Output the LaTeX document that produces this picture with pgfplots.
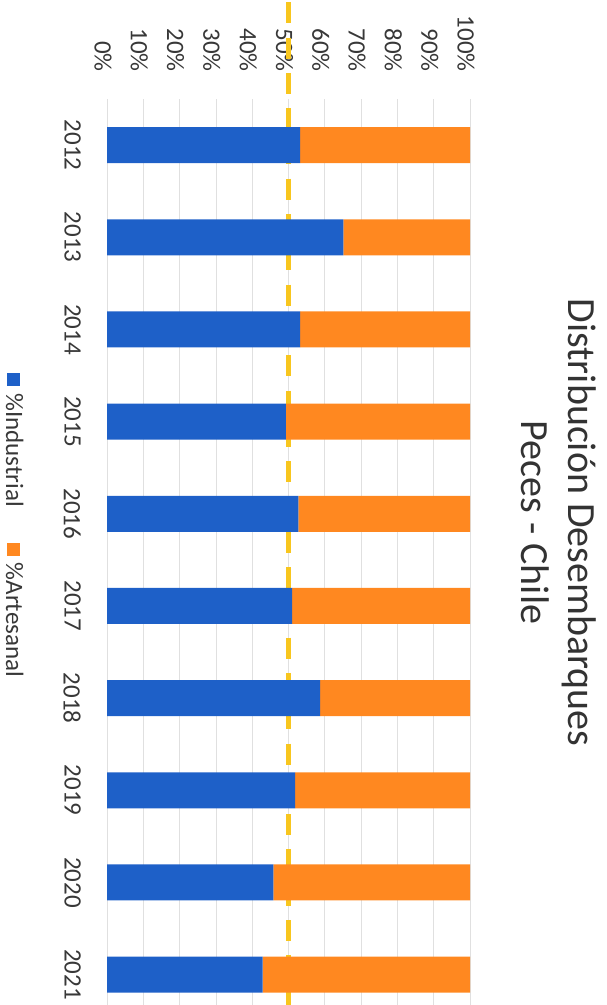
\documentclass[border=0pt]{standalone}
\usepackage{fontspec}
\setmainfont{Carlito}
\usepackage{pgfplots}
\pgfplotsset{compat=1.18}
\usepackage{pgfplotstable}
\definecolor{indblue}{RGB}{30,96,200}
\definecolor{artorange}{RGB}{255,136,32}
\definecolor{refgold}{RGB}{248,198,30}
\pgfplotstableread{
idx year ind art
0 2012 53.2 46.8
1 2013 65.1 34.9
2 2014 53.2 46.8
3 2015 49.3 50.7
4 2016 52.7 47.3
5 2017 51.0 49.0
6 2018 58.7 41.3
7 2019 51.8 48.2
8 2020 45.8 54.2
9 2021 42.9 57.1
}\datatable
\begin{document}
\begin{tikzpicture}
\useasboundingbox (0,0) rectangle (607bp,-1005bp);
\begin{axis}[
  at={(107bp,-99bp)}, anchor=north west,
  scale only axis, width=363bp, height=906bp,
  xbar stacked, bar width=36bp,
  xmin=0, xmax=100, ymin=-0.5, ymax=9.33, y dir=reverse,
  xtick={0,10,...,100},
  xticklabels={0\%,10\%,20\%,30\%,40\%,50\%,60\%,70\%,80\%,90\%,100\%},
  xticklabel pos=upper,
  ytick={0,...,9},
  yticklabels={2012,2013,2014,2015,2016,2017,2018,2019,2020,2021},
  xmajorgrids, ymajorgrids=false,
  major grid style={draw=black!12, line width=0.8bp},
  axis line style={draw=none},
  major tick length=0pt,
  tick label style={font=\fontsize{25bp}{30bp}\selectfont, inner sep=0pt, text=black!78},
  xticklabel style={rotate=-90, anchor=east, yshift=-4bp},
  yticklabel style={rotate=-90, anchor=north},
  xticklabel shift=27bp,
  yticklabel shift=26bp,
  clip=false,
]
\addplot[fill=indblue, draw=none] table[x=ind, y=idx]{\datatable};
\addplot[fill=artorange, draw=none] table[x=art, y=idx]{\datatable};
\draw[refgold, line width=5.5bp, dash pattern=on 21bp off 14.3bp] (axis cs:50,-1.55) -- (axis cs:50,9.45);
\end{axis}
\node[rotate=-90, anchor=base, inner sep=0pt, font=\fontsize{40bp}{48bp}\selectfont, text=black!80] at (568bp,-522.5bp) {Distribución Desembarques};
\node[rotate=-90, anchor=base, inner sep=0pt, font=\fontsize{40bp}{48bp}\selectfont, text=black!80] at (521bp,-522.5bp) {Peces - Chile};
\node[rotate=-90, anchor=base west, inner sep=0pt, font=\fontsize{25bp}{30bp}\selectfont, text=black!78] at (6bp,-373bp) {\textcolor{indblue}{\rule[0.5bp]{13bp}{13bp}}\hspace{7bp}\%Industrial\hspace{36bp}\textcolor{artorange}{\rule[0.5bp]{13bp}{13bp}}\hspace{7bp}\%Artesanal};
\end{tikzpicture}
\end{document}
